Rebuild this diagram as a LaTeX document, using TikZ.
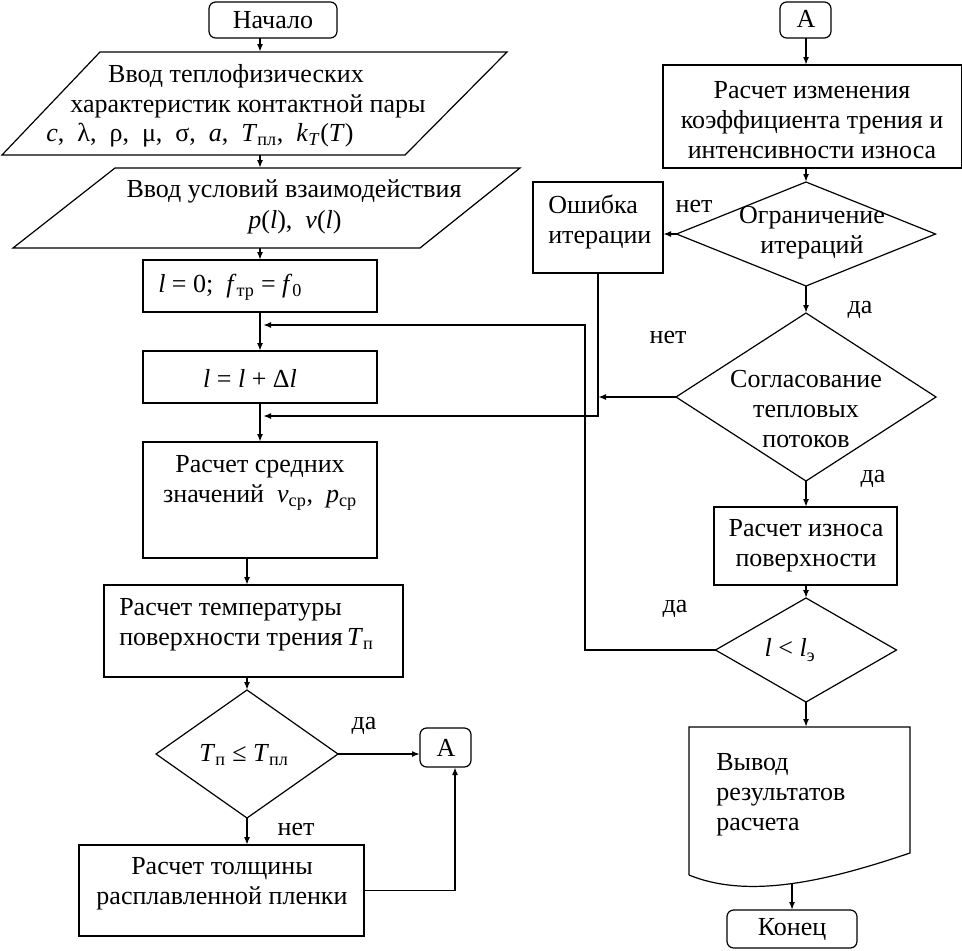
\documentclass[tikz,border=0pt]{standalone}
\usepackage{fontspec}
\setmainfont{Liberation Serif}
\usetikzlibrary{arrows.meta,shapes.geometric,fit}
\begin{document}
\begin{tikzpicture}[x=0.75pt,y=-0.75pt,
  every node/.style={font=\fontsize{19.5}{22.5}\selectfont},
  shp/.style={draw, line width=0.9pt, inner sep=0pt, outer sep=0pt},
  area/.style={inner sep=0pt, outer sep=0pt},
  term/.style={shp, rectangle, rounded corners=5pt},
  dec/.style={shp, diamond},
  txt/.style={inner sep=0pt, align=center},
  ltxt/.style={inner sep=0pt, align=left, anchor=west},
  lbl/.style={inner sep=0pt},
  arr/.style={-{Latex[length=6pt,width=4.5pt]}, line width=1.4pt},
  outl/.style={line width=0.9pt, line join=miter}]
\useasboundingbox (0,0) rectangle (962,950);

% column coordinates
\coordinate (colL) at (260,0);
\coordinate (colM) at (247,0);
\coordinate (colR) at (806,0);
\coordinate (aLx) at (455,0);
\coordinate (loopx) at (585,0);
\coordinate (m1) at (263,325);
\coordinate (m2) at (263,416);

% ---------- left column ----------
\node[term, fit={(209,2) (337,38)}] (start) {};
\node[txt] (tstart) at (273,20) {Начало};

\node[area, fit={(2,52) (507,155)}] (p1) {};
\draw[outl] (100,52) -- (507,52) -- (405,155) -- (2,155) -- cycle;
\node[txt] (p1a) at (236,76) {Ввод теплофизических};
\node[txt] (p1b) at (248,106) {характеристик контактной пары};
\node[txt] (p1c) at (200,135) {\textit{c},\enspace λ,\enspace ρ,\enspace μ,\enspace σ,\enspace \textit{a},\enspace \textit{T}\textsubscript{пл},\enspace \textit{k}\textsubscript{\textit{T}}(\textit{T})};

\node[area, fit={(13,168) (520,248)}] (p2) {};
\draw[outl] (115,168) -- (520,168) -- (420,248) -- (13,248) -- cycle;
\node[txt] (p2a) at (294,191) {Ввод условий взаимодействия};
\node[txt] (p2b) at (295,222) {\textit{p}(\textit{l}),\enspace \textit{v}(\textit{l})};

\node[shp, fit={(143,260) (377,312)}] (init) {};
\node[ltxt] (tinit) at (158,287) {\textit{l} = 0;\enspace \textit{f}\textsubscript{тр} = \textit{f}\textsubscript{0}};

\node[shp, fit={(143,351) (377,403)}] (incr) {};
\node[txt] (tincr) at (250,378) {\textit{l} = \textit{l} + Δ\textit{l}};

\node[shp, fit={(143,442) (377,558)}] (avg) {};
\node[txt] (tavg) at (260,483) {Расчет средних\\значений\enspace\textit{v}\textsubscript{ср},\enspace \textit{p}\textsubscript{ср}};

\node[shp, fit={(104,585) (403,677)}] (temp) {};
\node[ltxt] (ttemp) at (119,625) {Расчет температуры\\поверхности трения\,\textit{T}\textsubscript{п}};

\node[dec, minimum width=136.5pt, minimum height=96pt] (d1) at (247,754) {};
\node[txt] (td1) at (244,755) {\textit{T}\textsubscript{п} ≤ \textit{T}\textsubscript{пл}};

\node[term, fit={(420,728) (471,767)}] (aL) {};
\node[txt] (taL) at (446,748) {А};

\node[shp, fit={(79,845) (364,936)}] (film) {};
\node[txt] (tfilm) at (222,884) {Расчет толщины\\расплавленной пленки};

% ---------- right column ----------
\node[term, fit={(780,2) (831,38)}] (aR) {};
\node[txt] (taR) at (806,19) {А};

\node[shp, fit={(663,65) (962,168)}] (frict) {};
\node[txt] (tfrict) at (812,120) {Расчет изменения\\коэффициента трения и\\интенсивности износа};

\node[dec, minimum width=194.25pt, minimum height=78pt] (lim) at (806,234) {};
\node[txt] (tlim) at (812,233) {Ограничение\\итераций};

\node[shp, fit={(533,182) (663,273)}] (err) {};
\node[ltxt] (terr) at (548,222) {Ошибка\\итерации};

\node[dec, minimum width=195pt, minimum height=126pt] (sog) at (806,397) {};
\node[txt] (tsog) at (806,409) {Согласование\\тепловых\\потоков};

\node[shp, fit={(714,507) (897,585)}] (wear) {};
\node[txt] (twear) at (806,546) {Расчет износа\\поверхности};

\node[dec, minimum width=135.75pt, minimum height=78pt] (cmp) at (806,650) {};
\node[txt] (tcmp) at (790,650) {\textit{l} < \textit{l}\textsubscript{э}};

\node[area, fit={(689,727) (910,883)}] (doc) {};
\draw[outl] (689,875) -- (689,727) -- (910,727) -- (910,853)
  .. controls (830,880) and (750,900) .. (689,875);
\node[ltxt] (tdoc) at (716,795) {Вывод\\результатов\\расчета};
\coordinate (docb) at (792,883);

\node[term, fit={(727,910) (857,948)}] (endn) {};
\node[txt] (tend) at (792,929) {Конец};

% ---------- labels ----------
\node[lbl] (l1) at (364,726) {да};
\node[lbl] (l2) at (296,829) {нет};
\node[lbl] (l3) at (694,206) {нет};
\node[lbl] (l4) at (860,310) {да};
\node[lbl] (l5) at (668,337) {нет};
\node[lbl] (l6) at (873,479) {да};
\node[lbl] (l7) at (675,609) {да};

% ---------- connectors ----------
\draw[arr] (start.south -| colL) -- (p1.north -| colL);
\draw[arr] (p1.south -| colL) -- (p2.north -| colL);
\draw[arr] (p2.south -| colL) -- (init.north -| colL);
\draw[arr] (init.south -| colL) -- (incr.north -| colL);
\draw[arr] (incr.south -| colL) -- (avg.north -| colL);
\draw[arr] (avg.south -| colM) -- (temp.north -| colM);
\draw[arr] (temp.south -| colM) -- (d1.north);
\draw[arr] (d1.east) -- (d1.east -| aL.west);
\draw[arr] (d1.south) -- (film.north -| d1.south);
\draw[arr] (film.east) -| (aL.south -| aLx);

\draw[arr] (aR.south -| colR) -- (frict.north -| colR);
\draw[arr] (frict.south -| colR) -- (lim.north);
\draw[arr] (lim.west) -- (lim.west -| err.east);
\draw[arr] (lim.south) -- (sog.north);
\draw[arr] (sog.south) -- (wear.north -| sog.south);
\draw[arr] (wear.south -| colR) -- (cmp.north);
\draw[arr] (cmp.south) -- (doc.north -| cmp.south);
\draw[arr] (docb) -- (endn.north -| docb);

\draw[arr] (err.south) |- (m2);
\draw[arr] (sog.west) -- (sog.west -| err.south);
\draw[arr] (cmp.west) -| (loopx |- m1) -- (m1);
\end{tikzpicture}
\end{document}
